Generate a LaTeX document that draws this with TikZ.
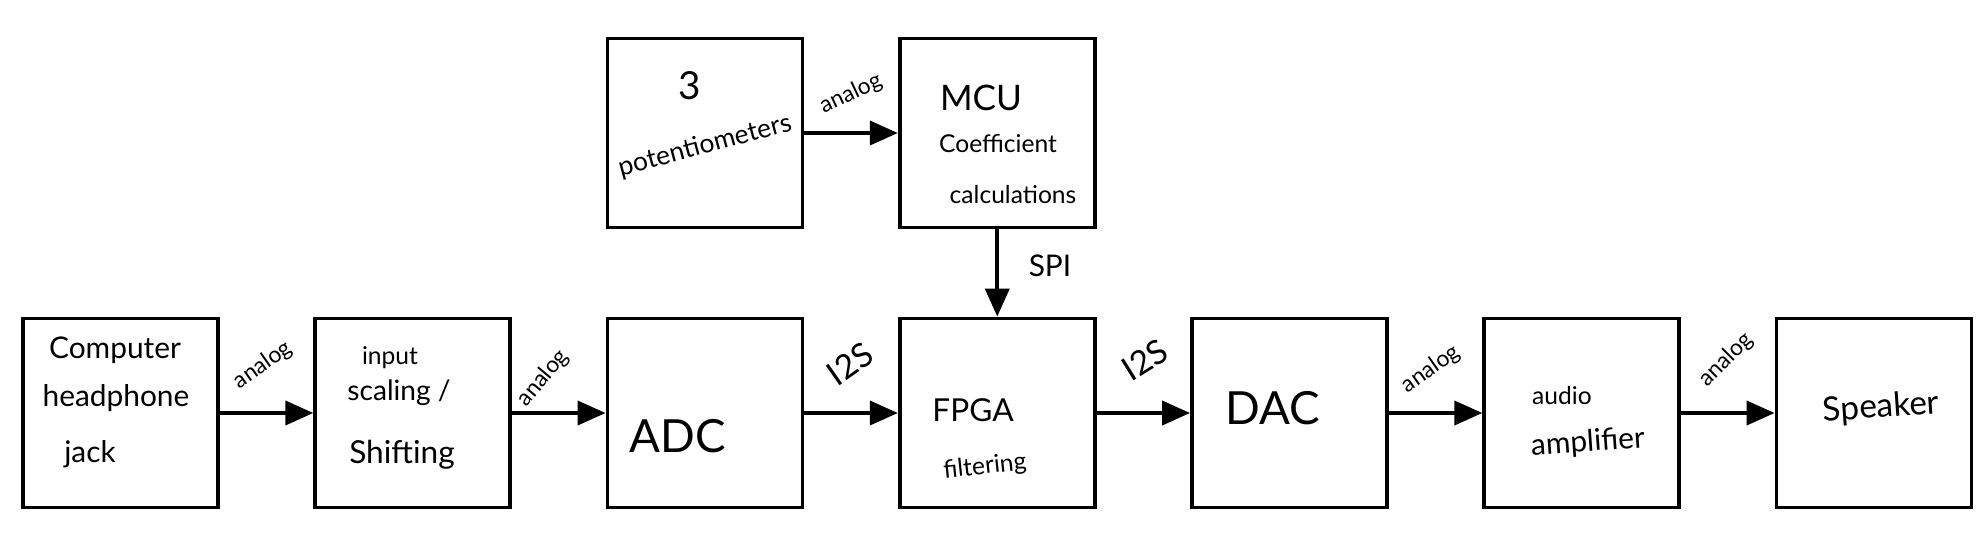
\documentclass[tikz,border=0pt]{standalone}
\usepackage{fontspec}
\setmainfont{Lato}
\usetikzlibrary{arrows.meta}

\tikzset{
  block/.style={draw, line width=2.2pt, minimum width=3.9cm, minimum height=3.78cm},
  flow/.style={line width=2.2pt, -{Triangle[length=0.56cm,width=0.48cm]}},
  hand/.style={font=\fontsize{17}{20}\selectfont},
  tag/.style={font=\fontsize{13}{15}\selectfont},
  big/.style={font=\fontsize{26}{30}\selectfont}
}

\begin{document}
\begin{tikzpicture}[x=0.02cm,y=-0.02cm]
	\useasboundingbox (0,0) rectangle (1986,538);
	% blocks
	\foreach \name [count=\i from 0] in {jack,scaler,adc,fpga,dac,amp,speaker}
		\node [block] (\name) at (120.5+292.25*\i,413) {};
	\node [block] (pots) at (adc |- 0,133) {};
	\node [block] (mcu) at (fpga |- 0,133) {};
	% arrows
	\draw [flow] (jack) -- (scaler);
	\draw [flow] (scaler) -- (adc);
	\draw [flow] (adc) -- (fpga);
	\draw [flow] (fpga) -- (dac);
	\draw [flow] (dac) -- (amp);
	\draw [flow] (amp) -- (speaker);
	\draw [flow] (pots) -- (mcu);
	\draw [flow] (mcu) -- (fpga);
	% text in blocks
	\node [hand] (t1a) at (115,350) {Computer};
	\node [hand] (t1b) at (116,398) {headphone};
	\node [hand] (t1c) at (90,454) {jack};
	\node [hand, font=\fontsize{14}{16}\selectfont] (t2a) at (390,358) {input};
	\node [hand, font=\fontsize{16}{18}\selectfont] (t2b) at (399,393) {scaling /};
	\node [hand, font=\fontsize{18}{20}\selectfont] (t2c) at (402,455) {Shifting};
	\node [big] (t3) at (678,436) {ADC};
	\node [hand, font=\fontsize{18}{20}\selectfont] (t4a) at (973,410) {FPGA};
	\node [hand, font=\fontsize{14}{16}\selectfont, rotate=6] (t4b) at (985,467) {filtering};
	\node [big] (t5) at (1273,408) {DAC};
	\node [hand, font=\fontsize{14}{16}\selectfont] (t6a) at (1562,396) {audio};
	\node [hand, rotate=4] (t6b) at (1588,443) {amplifier};
	\node [hand, font=\fontsize{19}{21}\selectfont, rotate=4] (t7) at (1881,408) {Speaker};
	\node [hand, font=\fontsize{22}{24}\selectfont] (t8a) at (690,86) {3};
	\node [hand, font=\fontsize{15}{17}\selectfont, rotate=15] (t8b) at (705,146) {potentiometers};
	\node [hand, font=\fontsize{20}{22}\selectfont] (t9a) at (981,98) {MCU};
	\node [hand, font=\fontsize{14}{16}\selectfont] (t9b) at (998,144) {Coefficient};
	\node [hand, font=\fontsize{14}{16}\selectfont] (t9c) at (1013,195) {calculations};
	% labels on arrows
	\node [tag, rotate=35] (l1) at (263,365) {analog};
	\node [tag, rotate=50] (l2) at (543,378) {analog};
	\node [hand, font=\fontsize{19}{21}\selectfont, rotate=35] (l3) at (850,364) {I2S};
	\node [hand, font=\fontsize{19}{21}\selectfont, rotate=32] (l4) at (1145,360) {I2S};
	\node [tag, rotate=35] (l5) at (1431,369) {analog};
	\node [tag, rotate=45] (l6) at (1726,360) {analog};
	\node [tag, rotate=25] (l7) at (851,94) {analog};
	\node [hand] (l8) at (1050,266) {SPI};
\end{tikzpicture}
\end{document}
